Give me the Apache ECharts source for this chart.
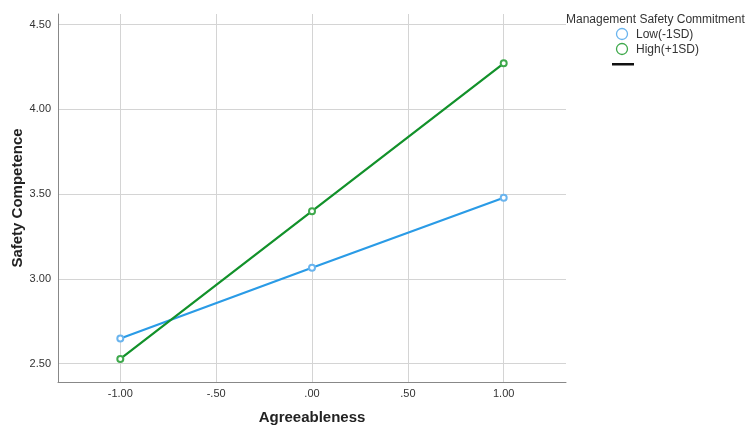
<!DOCTYPE html>
<html><head><meta charset="utf-8">
<script src="https://cdn.jsdelivr.net/npm/echarts@6/dist/echarts.min.js"></script>
<style>html,body{margin:0;padding:0;background:#fff}#c{width:746px;height:434px}</style>
</head><body><div id="c"></div>
<script>
const xValues = [-1, 0, 1];
const lowValues = [2.648, 3.065, 3.478];
const highValues = [2.527, 3.399, 4.272];
const xTicks = [-1, -0.5, 0, 0.5, 1];
const yTicks = [2.5, 3.0, 3.5, 4.0, 4.5];
const seriesNames = ['Low(-1SD)', 'High(+1SD)'];
const legendTitle = 'Management Safety Commitment';

const FONT = '"Liberation Sans", Arial, sans-serif';
const blue = '#2a9be6', blueM = '#6ab4ee';
const green = '#12912a', greenM = '#3fa94c';
function fmt(v){ let s = Number(v).toFixed(2); return s.replace(/^(-?)0\./, '$1.'); }

const chart = echarts.init(document.getElementById('c'));
chart.setOption({
  animation: false,
  backgroundColor: '#fff',
  grid: {left: 58, right: 180, top: 14, bottom: 52, containLabel: false, outerBoundsMode: 'none'},
  xAxis: {
    type: 'value', min: -1.325, max: 1.325,
    name: 'Agreeableness', nameLocation: 'middle', nameGap: 28, nameMoveOverlap: false,
    nameTextStyle: {fontFamily: FONT, fontSize: 15, fontWeight: 'bold', color: '#222'},
    axisLine: {show: true, onZero: false, lineStyle: {color: '#888', width: 1}},
    axisTick: {show: false, customValues: xTicks},
    axisLabel: {customValues: xTicks, formatter: fmt, fontFamily: FONT, fontSize: 11, color: '#333', margin: 6},
    splitLine: {show: true, lineStyle: {color: '#d4d4d4', width: 1}}
  },
  yAxis: {
    type: 'value', min: 2.391, max: 4.563,
    name: 'Safety Competence', nameLocation: 'middle', nameGap: 33, nameMoveOverlap: false,
    nameTextStyle: {fontFamily: FONT, fontSize: 15, fontWeight: 'bold', color: '#222'},
    axisLine: {show: true, onZero: false, lineStyle: {color: '#888', width: 1}},
    axisTick: {show: false, customValues: yTicks},
    axisLabel: {customValues: yTicks, formatter: fmt, fontFamily: FONT, fontSize: 11, color: '#333', margin: 7},
    splitLine: {show: true, lineStyle: {color: '#d4d4d4', width: 1}}
  },
  graphic: [
    {type: 'text', x: 566, y: 14, style: {text: legendTitle, font: '12px ' + FONT, fill: '#333'}},
    {type: 'circle', shape: {cx: 622, cy: 34, r: 5.5}, style: {fill: '#fff', stroke: blueM, lineWidth: 1.3}},
    {type: 'text', x: 636, y: 29, style: {text: seriesNames[0], font: '12px ' + FONT, fill: '#333'}},
    {type: 'circle', shape: {cx: 622, cy: 49, r: 5.5}, style: {fill: '#fff', stroke: greenM, lineWidth: 1.3}},
    {type: 'text', x: 636, y: 44, style: {text: seriesNames[1], font: '12px ' + FONT, fill: '#333'}},
    {type: 'rect', shape: {x: 612, y: 63, width: 22, height: 2.5}, style: {fill: '#111'}}
  ],
  series: [
    {name: seriesNames[0], type: 'line', data: xValues.map((x,i)=>[x, lowValues[i]]),
     symbol: 'emptyCircle', symbolSize: 6, lineStyle: {color: blue, width: 2.2},
     itemStyle: {color: blueM, borderColor: blueM, borderWidth: 1}},
    {name: seriesNames[1], type: 'line', data: xValues.map((x,i)=>[x, highValues[i]]),
     symbol: 'emptyCircle', symbolSize: 6, lineStyle: {color: green, width: 2.2},
     itemStyle: {color: greenM, borderColor: greenM, borderWidth: 1}}
  ]
});
</script></body></html>
